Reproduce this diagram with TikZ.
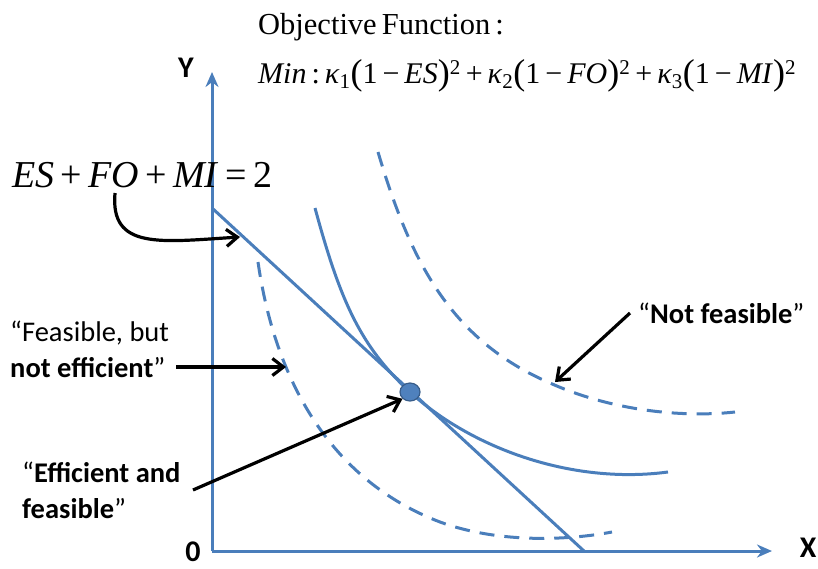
\documentclass[tikz,border=0pt]{standalone}
\usepackage{fontspec}
\setmainfont{Liberation Serif}
\newfontfamily\calib{Carlito}
\usetikzlibrary{arrows.meta,shapes.geometric}
\definecolor{ax}{HTML}{4A7EBB}
\definecolor{dotfill}{HTML}{4F81BD}
\definecolor{dotline}{HTML}{385D8A}
\newcommand\myLP{{\fontsize{36}{36}\selectfont\raisebox{-1pt}{(}}}
\newcommand\myRP{{\fontsize{36}{36}\selectfont\raisebox{-1pt}{)}}}
\begin{document}
\begin{tikzpicture}[x=1pt,y=-1pt,
  curve/.style={ax,line width=3pt},
  dcurve/.style={ax,line width=3pt,dash pattern=on 15pt off 10pt},
  axis/.style={ax,line width=3pt,-{Stealth[length=15pt,width=13pt]}},
  pointer/.style={black,line width=3.2pt,-{Straight Barb[length=11pt,width=17pt,line width=3.2pt]}},
  lbl/.style={font=\calib\fontsize{28.5}{36}\selectfont,inner sep=0pt,align=left},
  axl/.style={font=\calib\bfseries\fontsize{30}{32}\selectfont,inner sep=0pt}]
\useasboundingbox (0,0) rectangle (818,568);
% axes
\coordinate (O) at (212,551);
\coordinate (Ytip) at (212,72);
\coordinate (Xtip) at (772,551);
\draw[axis] (O) -- (Ytip);
\draw[axis] (O) -- (Xtip);
\node[axl] (ylab) at (186,68) {Y};
\node[axl] (xlab) at (808,548) {X};
\node[axl] (zero) at (193,552) {0};
% budget line
\coordinate (L1) at (212,208);
\coordinate (L2) at (584,551);
\draw[curve] (L1) -- (L2);
% curves
\draw[curve] (315,208) .. controls (340,300) and (360,346) .. (410,392)
  .. controls (470,447) and (570,485) .. (668,472);
\draw[dcurve] (378,152) .. controls (410,260) and (450,340) .. (550,383)
  .. controls (610,410) and (680,418) .. (735,412);
\draw[dcurve] (258,262) .. controls (275,380) and (330,480) .. (440,522)
  .. controls (500,544) and (570,540) .. (612,532);
% optimum
\node[ellipse,draw=dotline,fill=dotfill,line width=1.2pt,minimum width=20pt,minimum height=18pt,inner sep=0pt] (opt) at (410,392) {};
% texts
\node[inner sep=0pt,anchor=west] (obj) at (258,27) {\fontsize{30.5}{32}\selectfont Objective\,Function\,:};
\node[inner sep=0pt,anchor=west] (fun) at (258,76) {\fontsize{30}{32}\selectfont
  \textit{Min}\,:\,\textit{κ}\textsubscript{1}\myLP 1\,−\,\textit{ES}\myRP\textsuperscript{2}\,+\,\textit{κ}\textsubscript{2}\myLP 1\,−\,\textit{FO}\myRP\textsuperscript{2}\,+\,\textit{κ}\textsubscript{3}\myLP 1\,−\,\textit{MI}\myRP\textsuperscript{2}};
\node[inner sep=0pt,anchor=west] (cons) at (12,175) {\fontsize{38}{42}\selectfont \textit{ES}\,+\,\textit{FO}\,+\,\textit{MI}\,=\,2};
\node[lbl,anchor=west] (fne) at (10,349) {“Feasible, but\\\textbf{not efficient}”};
\node[lbl,anchor=west] (ef) at (22,490) {“\textbf{Efficient and}\\\textbf{feasible}”};
\node[lbl,anchor=west] (nf) at (638,313) {“\textbf{Not feasible}”};
% pointers
\coordinate (c1) at (115,193);
\coordinate (c1e) at (240,237);
\draw[pointer] (c1) .. controls (110,250) and (160,242) .. (c1e);
\coordinate (p2s) at (176,367);
\coordinate (p2e) at (286,367);
\draw[pointer] (p2s) -- (p2e);
\coordinate (p3s) at (193,490);
\draw[pointer] (p3s) -- (opt.south west);
\coordinate (p4s) at (630,313);
\coordinate (p4e) at (555,382);
\draw[pointer] (p4s) -- (p4e);
\end{tikzpicture}
\end{document}
